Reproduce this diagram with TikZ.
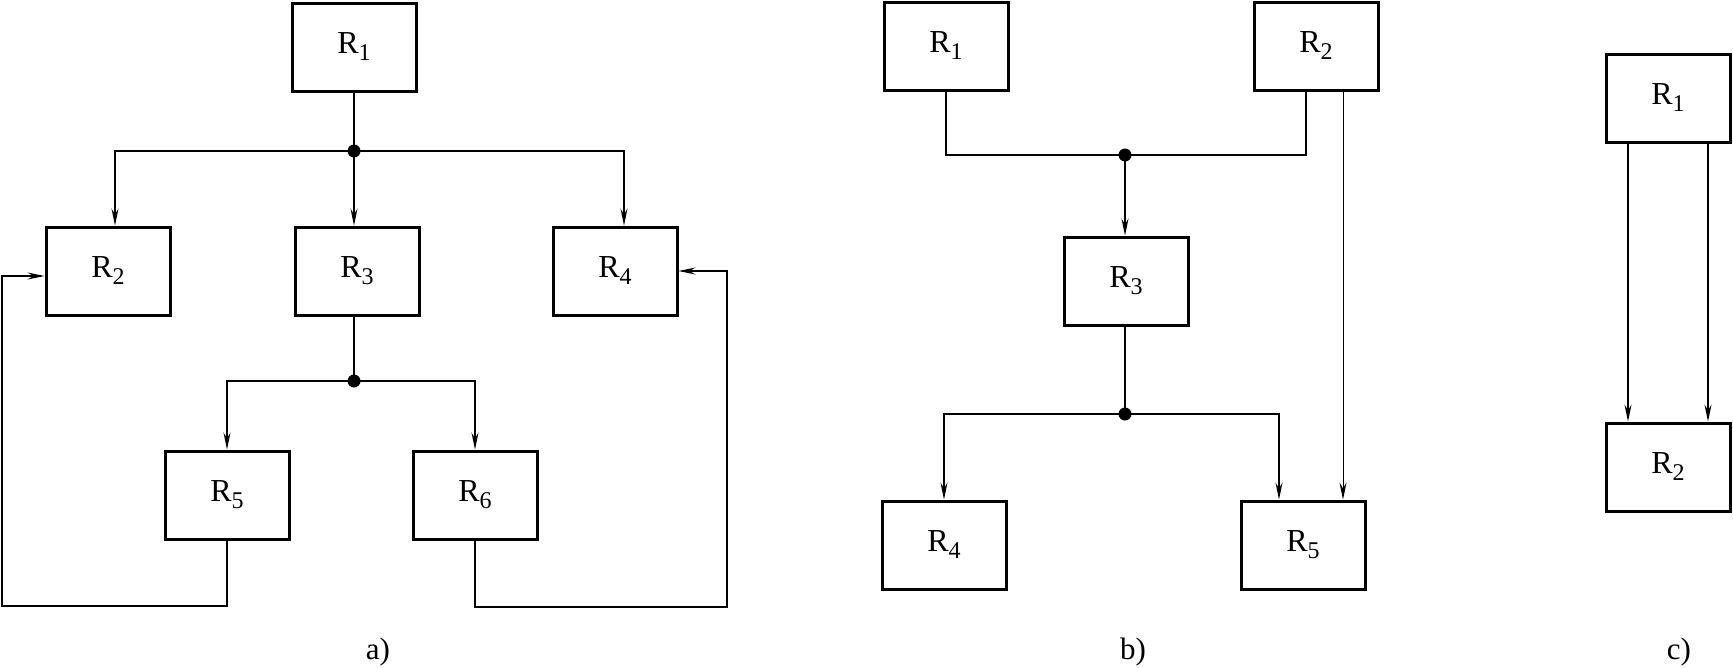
\documentclass[tikz,border=0pt]{standalone}
\usepackage{fontspec}
\setmainfont{Liberation Serif}
\usetikzlibrary{arrows.meta,calc}
\newcommand{\Rs}[1]{R\raisebox{-7pt}{\fontsize{24}{24}\selectfont #1}}
\tikzset{
  blk/.style={draw,line width=3pt,rectangle,minimum width=124pt,minimum height=88pt,inner sep=0pt,font=\fontsize{32}{32}\selectfont},
  con/.style={line width=1.1pt},
  arr/.style={con,-{Stealth[length=17pt,width=7pt,inset=6pt]}},
  jdot/.style={circle,fill,inner sep=0pt,minimum size=13pt},
  caplbl/.style={font=\fontsize{31}{31}\selectfont}
}
\begin{document}
\begin{tikzpicture}[x=1pt,y=-1pt]
\useasboundingbox (0,0) rectangle (1733,667);
% ---- a)
\node[blk] (a1) at (354,47) {\Rs{1}};
\node[blk] (a2) at (108,271) {\Rs{2}};
\node[blk] (a3) at (357,271) {\Rs{3}};
\node[blk] (a4) at (615,271) {\Rs{4}};
\node[blk] (a5) at (227,495) {\Rs{5}};
\node[blk] (a6) at (475,495) {\Rs{6}};
\node[jdot] (ja1) at (354,151) {};
\node[jdot] (ja2) at (354,381) {};
\coordinate (la) at (2,606);
\coordinate (ra) at (727,607);
\draw[con] (a1.south -| ja1) -- (ja1.center);
\draw[arr] (ja1.center) -- (ja1.center |- a3.north);
\draw[arr] (ja1.center) -| ([xshift=7pt]a2.north);
\draw[arr] (ja1.center) -| ([xshift=9pt]a4.north);
\draw[con] (a3.south -| ja2) -- (ja2.center);
\draw[arr] (ja2.center) -| (a5.north);
\draw[arr] (ja2.center) -| (a6.north);
\draw[arr] (a5.south) |- (la) |- ([yshift=-5pt]a2.west);
\draw[arr] (a6.south) |- (ra) |- (a4.east);
\node[caplbl] (la1) at (378,652) {a)};
% ---- b)
\node[blk] (b1) at (946,46) {\Rs{1}};
\node[blk] (b2) at (1316,46) {\Rs{2}};
\node[blk] (b3) at (1126,281) {\Rs{3}};
\node[blk] (b4) at (944,545) {\Rs{4}};
\node[blk] (b5) at (1303,545) {\Rs{5}};
\node[jdot] (jb1) at (1125,155) {};
\node[jdot] (jb2) at (1125,414) {};
\draw[con] (b1.south) |- (jb1.center) -| ([xshift=-10pt]b2.south);
\draw[arr] (jb1.center) -- (jb1.center |- b3.north);
\draw[con] (b3.south -| jb2) -- (jb2.center);
\draw[arr] (jb2.center) -| (b4.north);
\draw[arr] (jb2.center) -| ([xshift=-24pt]b5.north);
\draw[arr,line width=0.8pt] ([xshift=27pt]b2.south) -- ([xshift=27pt]b2.south |- b5.north);
\node[caplbl] (lb) at (1133,652) {b)};
% ---- c)
\node[blk] (c1) at (1668,98) {\Rs{1}};
\node[blk] (c2) at (1668,467) {\Rs{2}};
\draw[arr] ([xshift=-40pt]c1.south) -- ([xshift=-40pt]c2.north);
\draw[arr] ([xshift=40pt]c1.south) -- ([xshift=40pt]c2.north);
\node[caplbl] (lc) at (1679,652) {c)};
\end{tikzpicture}
\end{document}
